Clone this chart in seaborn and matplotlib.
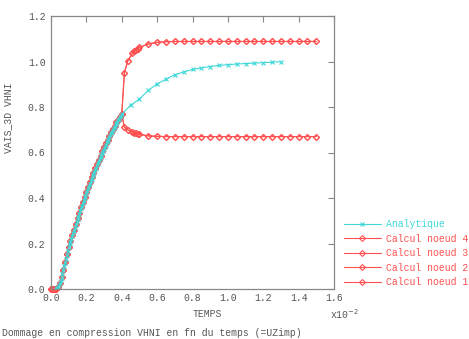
import matplotlib
matplotlib.use("Agg")
import matplotlib.pyplot as plt
import seaborn as sns
import pandas as pd
from matplotlib.lines import Line2D

# ---- data (x in units of 1e-2) ----
ana_rise_x = [0.030, 0.035, 0.040, 0.045, 0.050, 0.055, 0.060, 0.065, 0.070, 0.075,
              0.080, 0.085, 0.090, 0.095, 0.100, 0.105, 0.110, 0.115, 0.120, 0.125,
              0.130, 0.135, 0.140, 0.145, 0.150, 0.155, 0.160, 0.165, 0.170, 0.175,
              0.180, 0.185, 0.190, 0.195, 0.200, 0.205, 0.210, 0.215, 0.220, 0.225,
              0.230, 0.235, 0.240, 0.245, 0.250, 0.255, 0.260, 0.265, 0.270, 0.275,
              0.280, 0.285, 0.290, 0.295, 0.300, 0.305, 0.310, 0.315, 0.320, 0.325,
              0.330, 0.335, 0.340, 0.345, 0.350, 0.355, 0.360, 0.365, 0.370, 0.375,
              0.380, 0.385, 0.390, 0.395, 0.400]
ana_rise_y = [0.000, 0.004, 0.010, 0.017, 0.025, 0.037, 0.050, 0.066, 0.083, 0.099,
              0.115, 0.133, 0.150, 0.167, 0.183, 0.196, 0.208, 0.220, 0.232, 0.245,
              0.257, 0.269, 0.281, 0.294, 0.306, 0.318, 0.330, 0.342, 0.354, 0.366,
              0.377, 0.388, 0.399, 0.410, 0.420, 0.431, 0.442, 0.453, 0.463, 0.474,
              0.484, 0.495, 0.505, 0.515, 0.524, 0.534, 0.543, 0.553, 0.562, 0.571,
              0.580, 0.590, 0.599, 0.608, 0.617, 0.626, 0.635, 0.644, 0.652, 0.660,
              0.668, 0.676, 0.684, 0.692, 0.699, 0.707, 0.714, 0.721, 0.728, 0.735,
              0.742, 0.749, 0.755, 0.762, 0.768]

ana_tail_x = [0.45, 0.50, 0.55, 0.60, 0.65, 0.70, 0.75, 0.80, 0.85, 0.90, 0.95,
              1.00, 1.05, 1.10, 1.15, 1.20, 1.25, 1.30]
ana_tail_y = [0.808, 0.835, 0.873, 0.902, 0.922, 0.942, 0.954, 0.965, 0.972,
              0.978, 0.983, 0.986, 0.989, 0.991, 0.993, 0.995, 0.997, 0.999]

calc_rise_x = [0.000, 0.005, 0.010, 0.015, 0.020, 0.03, 0.04, 0.05, 0.06, 0.07, 0.08,
               0.09, 0.10, 0.11, 0.12, 0.13, 0.14, 0.15, 0.16, 0.17, 0.18, 0.19,
               0.20, 0.21, 0.22, 0.23, 0.24, 0.25, 0.26, 0.27, 0.28, 0.29, 0.30,
               0.31, 0.32, 0.33, 0.34, 0.35, 0.36, 0.37, 0.38, 0.39, 0.40]
calc_rise_y = [0.000, 0.000, 0.000, 0.000, 0.000, 0.000, 0.010, 0.027, 0.052, 0.085,
               0.117, 0.152, 0.185, 0.211, 0.236, 0.261, 0.286, 0.311, 0.336, 0.360,
               0.384, 0.406, 0.427, 0.449, 0.470, 0.491, 0.511, 0.530, 0.549, 0.568,
               0.586, 0.605, 0.623, 0.640, 0.657, 0.673, 0.689, 0.704, 0.718, 0.732,
               0.745, 0.757, 0.768]

tail_x = [0.415, 0.435, 0.46, 0.47, 0.48, 0.49, 0.50, 0.55, 0.60, 0.65, 0.70,
          0.75, 0.80, 0.85, 0.90, 0.95, 1.00, 1.05, 1.10, 1.15, 1.20, 1.25,
          1.30, 1.35, 1.40, 1.45, 1.50]
upper_y = [0.951, 1.004, 1.036, 1.044, 1.050, 1.057, 1.062, 1.077, 1.084, 1.087,
           1.088, 1.088, 1.088, 1.088, 1.088, 1.088, 1.088, 1.088, 1.088, 1.088,
           1.088, 1.088, 1.088, 1.088, 1.088, 1.088, 1.088]
lower_y = [0.711, 0.699, 0.689, 0.687, 0.685, 0.682, 0.680, 0.673, 0.671, 0.670,
           0.670, 0.670, 0.670, 0.670, 0.670, 0.670, 0.670, 0.670, 0.670, 0.670,
           0.670, 0.670, 0.670, 0.670, 0.670, 0.670, 0.670]

labels = ["Analytique", "Calcul noeud 4", "Calcul noeud 3", "Calcul noeud 2", "Calcul noeud 1"]
x_ticks = [0.0, 0.2, 0.4, 0.6, 0.8, 1.0, 1.2, 1.4, 1.6]
y_ticks = [0.0, 0.2, 0.4, 0.6, 0.8, 1.0, 1.2]

CYAN = "#3fd8d8"
RED = "#ff5050"
GRAY = "#888888"
TXT = "#555555"
FS = 7

sns.set_theme(style="white")
plt.rcParams["font.family"] = ["Liberation Mono", "DejaVu Sans Mono"]

fig = plt.figure(figsize=(4.69, 3.39), dpi=100)
ax = fig.add_axes([51/469, 1-289/339, (334-51)/469, (289-16)/339])

series = {
    labels[1]: (calc_rise_x + tail_x, calc_rise_y + upper_y),
    labels[2]: (calc_rise_x + tail_x, calc_rise_y + upper_y),
    labels[3]: (calc_rise_x + tail_x, calc_rise_y + lower_y),
    labels[4]: (calc_rise_x + tail_x, calc_rise_y + lower_y),
}
for name, (xs, ys) in series.items():
    df = pd.DataFrame({"x": xs, "y": ys})
    sns.lineplot(data=df, x="x", y="y", ax=ax, color=RED, lw=0.8, marker="D",
                 markersize=3, markerfacecolor="none", markeredgecolor=RED,
                 markeredgewidth=0.8, sort=False, estimator=None, clip_on=False)

dfa = pd.DataFrame({"x": ana_rise_x + ana_tail_x, "y": ana_rise_y + ana_tail_y})
sns.lineplot(data=dfa, x="x", y="y", ax=ax, color=CYAN, lw=0.8, marker="x",
             markersize=3.5, markeredgecolor=CYAN, markeredgewidth=0.8,
             sort=False, estimator=None)

ax.set_xlim(0, 1.6)
ax.set_ylim(0, 1.2)
ax.set_xticks(x_ticks)
ax.set_yticks(y_ticks)
ax.set_xticklabels([f"{v:.1f}" for v in x_ticks])
ax.set_yticklabels([f"{v:.1f}" for v in y_ticks])
ax.tick_params(direction="in", length=4, width=0.8, color=GRAY, labelcolor=TXT,
               labelsize=FS, top=True, right=True)
ax.tick_params(axis="x", pad=3)
ax.tick_params(axis="y", pad=4)
for s in ax.spines.values():
    s.set_color(GRAY)
    s.set_linewidth(0.9)
ax.set_xlabel("")
ax.set_ylabel("")

fig.text(207/469, 1-314/339, "TEMPS", ha="center", va="center", fontsize=FS, color=TXT)
fig.text(330/469, 1-314/339, r"x10$^{-2}$", ha="left", va="center", fontsize=FS, color=TXT)
fig.text(8/469, 1-118/339, "VAIS_3D VHNI", ha="center", va="center", rotation=90,
         fontsize=FS, color=TXT)
fig.text(2/469, 1-333/339, "Dommage en compression VHNI en fn du temps (=UZimp)",
         ha="left", va="center", fontsize=FS, color=TXT)

handles = [Line2D([], [], color=CYAN, lw=0.8, marker="x", markersize=3.5, markeredgewidth=0.8)]
handles += [Line2D([], [], color=RED, lw=0.8, marker="D", markersize=3,
                   markerfacecolor="none", markeredgewidth=0.8) for _ in range(4)]
leg = fig.legend(handles, labels, loc="upper left", bbox_to_anchor=(344/469, 1-219/339),
                 frameon=False, fontsize=FS, handlelength=3.8, handletextpad=0.5,
                 labelspacing=0.47, borderaxespad=0, borderpad=0,
                 labelcolor=[CYAN, RED, RED, RED, RED])

fig.savefig("out.png", dpi=100)
